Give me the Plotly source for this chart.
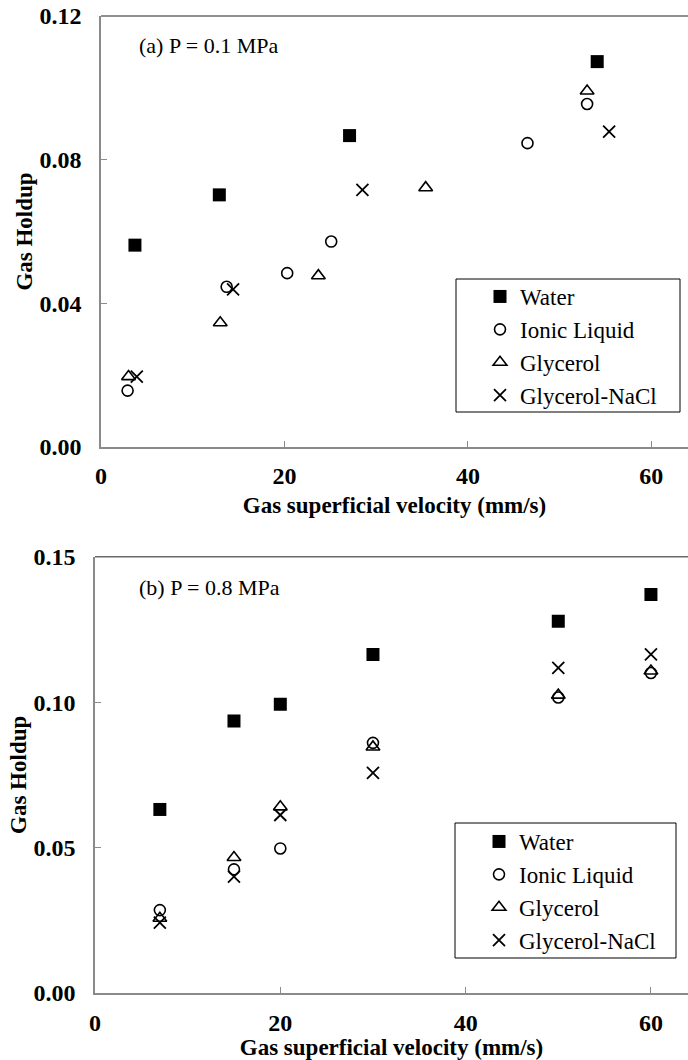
import plotly.graph_objects as go

# ---------- data ----------
series_names = ["Water", "Ionic Liquid", "Glycerol", "Glycerol-NaCl"]

# (a) P = 0.1 MPa
a_water_x = [3.7, 12.9, 27.1, 54.1]
a_water_y = [0.0562, 0.0702, 0.0867, 0.1073]
a_ionic_x = [2.9, 13.7, 20.3, 25.1, 46.5, 53.0]
a_ionic_y = [0.0157, 0.0446, 0.0484, 0.0572, 0.0846, 0.0955]
a_glyc_x = [3.0, 13.0, 23.7, 35.4, 53.0]
a_glyc_y = [0.0196, 0.0346, 0.0477, 0.0722, 0.0991]
a_nacl_x = [3.9, 14.4, 28.5, 55.4]
a_nacl_y = [0.0196, 0.0439, 0.0716, 0.0878]

# (b) P = 0.8 MPa
b_x = [7, 15, 20, 30, 50, 60]
b_water_y = [0.0631, 0.0935, 0.0993, 0.1164, 0.1278, 0.1370]
b_ionic_y = [0.0285, 0.0425, 0.0497, 0.0860, 0.1016, 0.1100]
b_glyc_y = [0.0257, 0.0466, 0.0640, 0.0846, 0.1024, 0.1107]
b_nacl_y = [0.0242, 0.0400, 0.0612, 0.0757, 0.1118, 0.1164]

x_ticks = [0, 20, 40, 60]
a_y_ticks = [0.00, 0.04, 0.08, 0.12]
b_y_ticks = [0.00, 0.05, 0.10, 0.15]

# ---------- styling ----------
W, H = 688, 1060
SERIF = "Liberation Serif, serif"
AX = "#8a8a8a"

styles = {
    "Water": dict(symbol="square", size=13, color="black", line=dict(width=0)),
    "Ionic Liquid": dict(symbol="circle-open", size=11, color="black", line=dict(width=1.6, color="black")),
    "Glycerol": dict(symbol="triangle-up-open", size=12, color="black", line=dict(width=1.6, color="black")),
    "Glycerol-NaCl": dict(symbol="x-thin-open", size=12, color="black", line=dict(width=1.8, color="black")),
}

def px_x(p):
    return p / W

def px_y(p):
    return 1 - p / H

fig = go.Figure()

a_data = [(a_water_x, a_water_y), (a_ionic_x, a_ionic_y), (a_glyc_x, a_glyc_y), (a_nacl_x, a_nacl_y)]
b_data = [(b_x, b_water_y), (b_x, b_ionic_y), (b_x, b_glyc_y), (b_x, b_nacl_y)]

for name, (xs, ys) in zip(series_names, a_data):
    fig.add_trace(go.Scatter(x=xs, y=ys, mode="markers", name=name, marker=styles[name],
                             xaxis="x", yaxis="y", legend="legend"))
for name, (xs, ys) in zip(series_names, b_data):
    fig.add_trace(go.Scatter(x=xs, y=ys, mode="markers", name=name, marker=styles[name],
                             xaxis="x2", yaxis="y2", legend="legend2"))

tickfont = dict(family=SERIF, size=24, color="black", weight="bold")
titlefont = dict(family=SERIF, size=23, color="black", weight="bold")

def xaxis(domain, anchor, standoff, title_standoff):
    return dict(domain=domain, anchor=anchor, range=[0, 64], tickvals=x_ticks,
                showline=True, linecolor=AX, linewidth=1.5, mirror=False,
                ticks="inside", ticklen=6, tickcolor=AX, tickwidth=1,
                showgrid=False, zeroline=False, tickfont=tickfont,
                ticklabelstandoff=standoff,
                title=dict(text="Gas superficial velocity (mm/s)", font=titlefont, standoff=title_standoff),
                automargin=False)

def yaxis(domain, anchor, rng, ticks):
    return dict(domain=domain, anchor=anchor, range=rng, tickvals=ticks, tickformat=".2f",
                showline=True, linecolor=AX, linewidth=1.5,
                ticks="inside", ticklen=6, tickcolor=AX, tickwidth=1,
                showgrid=False, zeroline=False, tickfont=tickfont,
                ticklabelstandoff=13,
                title=dict(text="Gas Holdup", font=titlefont, standoff=0),
                automargin=False)

x1_dom = [px_x(101), 1.0]
y1_dom = [px_y(447), px_y(16)]
x2_dom = [px_x(95), 1.0]
y2_dom = [px_y(993), px_y(556.7)]

legend_common = dict(font=dict(family=SERIF, size=23, color="black"),
                     bgcolor="rgba(0,0,0,0)", borderwidth=0,
                     xanchor="left", yanchor="top", tracegroupgap=0, itemwidth=30)

fig.update_layout(
    width=W, height=H,
    margin=dict(l=0, r=0, t=0, b=0),
    paper_bgcolor="white", plot_bgcolor="white",
    font=dict(family=SERIF, color="black"),
    xaxis=xaxis(x1_dom, "y", 6, 9),
    yaxis=yaxis(y1_dom, "x", [0, 0.12], a_y_ticks),
    xaxis2=xaxis(x2_dom, "y2", 7, 4),
    yaxis2=yaxis(y2_dom, "x2", [0, 0.15], b_y_ticks),
    legend=dict(x=px_x(480), y=px_y(275), **legend_common),
    legend2=dict(x=px_x(479), y=px_y(820), **legend_common),
    shapes=[
        # top borders of the plot frames
        dict(type="line", xref="paper", yref="paper", x0=x1_dom[0], x1=1, y0=y1_dom[1], y1=y1_dom[1],
             line=dict(color="#6a6a6a", width=1.5)),
        dict(type="line", xref="paper", yref="paper", x0=x2_dom[0], x1=1, y0=y2_dom[1], y1=y2_dom[1],
             line=dict(color="#6a6a6a", width=1.5)),
        # legend boxes
        dict(type="rect", xref="paper", yref="paper", x0=px_x(456), x1=px_x(680), y0=px_y(412), y1=px_y(279),
             line=dict(color="black", width=1)),
        dict(type="rect", xref="paper", yref="paper", x0=px_x(455), x1=px_x(676), y0=px_y(958), y1=px_y(823),
             line=dict(color="black", width=1)),
    ],
    annotations=[
        dict(text="(a) P = 0.1 MPa", xref="paper", yref="paper", x=px_x(137), y=px_y(46),
             xanchor="left", yanchor="middle", showarrow=False,
             font=dict(family=SERIF, size=22, color="black")),
        dict(text="(b) P = 0.8 MPa", xref="paper", yref="paper", x=px_x(137), y=px_y(587),
             xanchor="left", yanchor="middle", showarrow=False,
             font=dict(family=SERIF, size=22, color="black")),
    ],
)

fig.write_html("out.html")
